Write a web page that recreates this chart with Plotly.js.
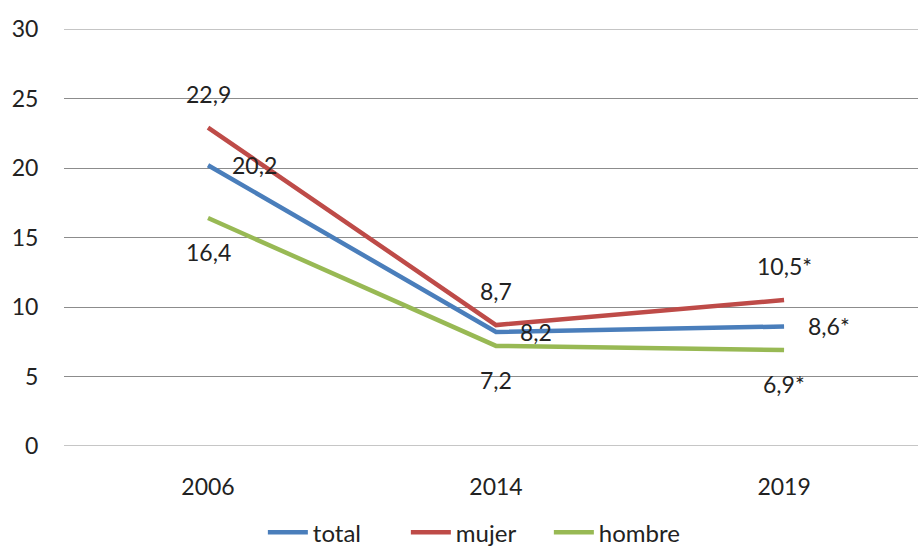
<!DOCTYPE html>
<html><head><meta charset="utf-8">
<script src="https://cdn.plot.ly/plotly-3.0.1.min.js"></script>
<style>body{margin:0;background:#fff}#c{width:918px;height:548px}</style>
</head><body><div id="c"></div>
<script>
const years = ["2006", "2014", "2019"];
const total = [20.2, 8.2, 8.6];
const mujer = [22.9, 8.7, 10.5];
const hombre = [16.4, 7.2, 6.9];
const totalLabels = ["20,2", "8,2", "8,6*"];
const mujerLabels = ["22,9", "8,7", "10,5*"];
const hombreLabels = ["16,4", "7,2", "6,9*"];
const yTicks = [0, 5, 10, 15, 20, 25, 30];

const font = "Lato, 'Open Sans', sans-serif";
const colors = {total: "#4A7EBB", mujer: "#BE4B48", hombre: "#98B954"};
const gridColor = "#8c8c8c";

function tr(name, y, c) {
  return {x: [0, 1, 2], y: y, name: name, type: "scatter", mode: "lines",
    line: {color: c, width: 4.5}, hoverinfo: "skip"};
}
const data = [tr("total", total, colors.total), tr("mujer", mujer, colors.mujer), tr("hombre", hombre, colors.hombre)];

const ann = [];
years.forEach((_, i) => {
  ann.push({x: i, y: total[i], text: totalLabels[i], xanchor: "left", yanchor: "middle", xshift: 22, showarrow: false});
  ann.push({x: i, y: mujer[i], text: mujerLabels[i], xanchor: "center", yanchor: "middle", yshift: 34, showarrow: false});
  ann.push({x: i, y: hombre[i], text: hombreLabels[i], xanchor: "center", yanchor: "middle", yshift: -34, showarrow: false});
});
ann.forEach(a => { a.font = {family: font, size: 23, color: "#222"}; });

// edge gridlines (Plotly omits gridlines lying on the plot border)
const edgeGrid = [yTicks[0], yTicks[yTicks.length - 1]].map(v => ({
  type: "line", xref: "paper", x0: 0, x1: 1, yref: "y", y0: v, y1: v,
  line: {color: gridColor, width: 1}, layer: "below"
}));

const layout = {
  width: 918, height: 548,
  margin: {l: 64, r: 0, t: 29, b: 102},
  paper_bgcolor: "#fff", plot_bgcolor: "#fff",
  font: {family: font, size: 23, color: "#222"},
  showlegend: true,
  legend: {orientation: "h", x: 0.52, xanchor: "center", xref: "container", y: 0.028, yanchor: "middle", yref: "container",
    font: {family: font, size: 24, color: "#222"}, itemwidth: 40, entrywidth: 88},
  xaxis: {range: [-0.5, 2.465], tickvals: [0, 1, 2], ticktext: years, showgrid: false,
    zeroline: false, showline: false, ticks: "outside", ticklen: 20, tickcolor: "rgba(0,0,0,0)",
    tickfont: {family: font, size: 23, color: "#222"}, fixedrange: true, automargin: false},
  yaxis: {range: [0, 30], tickvals: yTicks, ticktext: yTicks.map(String), showgrid: true,
    gridcolor: gridColor, gridwidth: 1, zeroline: false, showline: false,
    ticks: "outside", ticklen: 20, tickcolor: "rgba(0,0,0,0)",
    tickfont: {family: font, size: 23, color: "#222"}, fixedrange: true, automargin: false},
  shapes: edgeGrid,
  annotations: ann
};
Plotly.newPlot("c", data, layout, {displayModeBar: false, staticPlot: true});
</script></body></html>
